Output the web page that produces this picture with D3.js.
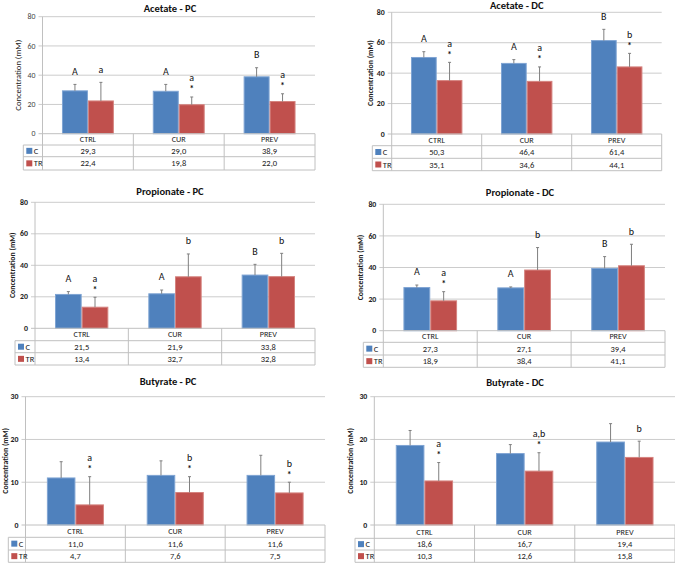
<!DOCTYPE html>
<html>
<head>
<meta charset="utf-8">
<script src="https://cdn.jsdelivr.net/npm/d3@7"></script>
<style>
html,body{margin:0;padding:0;background:#fff;}
svg{display:block;font-family:"Carlito","Liberation Sans",Arial,sans-serif;}
</style>
</head>
<body>
<svg id="chart" width="675" height="564"></svg>
<script>
// ---------------- DATA ----------------
const categories = ["CTRL", "CUR", "PREV"];
const seriesNames = ["C", "TR"];
const panelTitles = ["Acetate - PC", "Acetate - DC", "Propionate - PC", "Propionate - DC", "Butyrate - PC", "Butyrate - DC"];
const yAxisTitle = "Concentration (mM)";
const yMaxes = [80, 80, 80, 80, 30, 30];
const yTickSteps = [20, 20, 20, 20, 10, 10];

const acetatePC_C = [29.3, 29.0, 38.9];
const acetatePC_TR = [22.4, 19.8, 22.0];
const acetatePC_C_sd = [4.4, 4.7, 6.2];
const acetatePC_TR_sd = [12.7, 5.3, 5.3];

const acetateDC_C = [50.3, 46.4, 61.4];
const acetateDC_TR = [35.1, 34.6, 44.1];
const acetateDC_C_sd = [3.8, 2.5, 7.4];
const acetateDC_TR_sd = [12.0, 9.5, 8.9];

const propionatePC_C = [21.5, 21.9, 33.8];
const propionatePC_TR = [13.4, 32.7, 32.8];
const propionatePC_C_sd = [1.8, 2.4, 6.8];
const propionatePC_TR_sd = [6.3, 14.5, 14.8];

const propionateDC_C = [27.3, 27.1, 39.4];
const propionateDC_TR = [18.9, 38.4, 41.1];
const propionateDC_C_sd = [1.6, 0.6, 7.5];
const propionateDC_TR_sd = [5.8, 14.2, 13.6];

const butyratePC_C = [11.0, 11.6, 11.6];
const butyratePC_TR = [4.7, 7.6, 7.5];
const butyratePC_C_sd = [3.8, 3.4, 4.7];
const butyratePC_TR_sd = [6.6, 3.7, 2.5];

const butyrateDC_C = [18.6, 16.7, 19.4];
const butyrateDC_TR = [10.3, 12.6, 15.8];
const butyrateDC_C_sd = [3.5, 2.1, 4.3];
const butyrateDC_TR_sd = [4.3, 4.3, 3.8];

// significance letters (C series, TR series) and asterisks on TR
const lettersC = [["A","A","B"], ["A","A","B"], ["A","A","B"], ["A","A","B"], ["","",""], ["","",""]];
const lettersTR = [["a","a","a"], ["a","a","b"], ["a","b","b"], ["a","b","b"], ["a","b","b"], ["a","a,b","b"]];
const starsTR = [[false,true,true], [true,true,true], [true,false,false], [true,false,false], [true,true,true], [true,true,false]];

const meansC = [acetatePC_C, acetateDC_C, propionatePC_C, propionateDC_C, butyratePC_C, butyrateDC_C];
const meansTR = [acetatePC_TR, acetateDC_TR, propionatePC_TR, propionateDC_TR, butyratePC_TR, butyrateDC_TR];
const sdsC = [acetatePC_C_sd, acetateDC_C_sd, propionatePC_C_sd, propionateDC_C_sd, butyratePC_C_sd, butyrateDC_C_sd];
const sdsTR = [acetatePC_TR_sd, acetateDC_TR_sd, propionatePC_TR_sd, propionateDC_TR_sd, butyratePC_TR_sd, butyrateDC_TR_sd];

// ---------------- LAYOUT / STYLE ----------------
const layout = [
  {axisX:42.5, right:315, yTop:16.7, y0:133.7, rows:[133.7,145,156.7,170], legendLeft:23.3, titleX:170, titleY:8, yLabelX:18, bold:false},
  {axisX:391.7, right:661.7, yTop:12.3, y0:134, rows:[134,145.7,158.3,170.7], legendLeft:372.3, titleX:516.7, titleY:5, yLabelX:370, bold:true},
  {axisX:35, right:315, yTop:202.3, y0:328.3, rows:[328.3,340.7,352.7,365], legendLeft:15, titleX:170, titleY:191, yLabelX:11.7, bold:true},
  {axisX:383.3, right:665, yTop:204.3, y0:330.7, rows:[330.7,342.3,355,367.3], legendLeft:363.3, titleX:520, titleY:192, yLabelX:360, bold:true},
  {axisX:25.5, right:325, yTop:396.7, y0:525, rows:[525,537.3,550,562.3], legendLeft:8.3, titleX:168, titleY:381, yLabelX:5.5, bold:true},
  {axisX:374.3, right:675, yTop:396.7, y0:525, rows:[525,538.3,550,562.3], legendLeft:355, titleX:515, titleY:382, yLabelX:350, bold:true}
];
const colors = {C:"#4F81BD", TR:"#C0504D"};
const strokes = {C:"#7fa4d3", TR:"#d5837f"};
const gridColor = "#cccccc";
const tableColor = "#c0c0c0";
const fmt = v => d3.format(".1f")(v).replace(".", ",");

const svg = d3.select("#chart");

panelTitles.forEach((title, p) => {
  const L = layout[p];
  const g = svg.append("g");
  const x = d3.scaleBand().domain(categories).range([L.axisX, L.right]).padding(0);
  const xs = d3.scaleBand().domain(seriesNames).range([0, x.bandwidth()]).paddingInner(0).paddingOuter(0.75);
  const y = d3.scaleLinear().domain([0, yMaxes[p]]).range([L.y0, L.yTop]);
  const ticks = d3.range(0, yMaxes[p] + 0.001, yTickSteps[p]);

  // gridlines + tick marks
  g.selectAll("line.grid").data(ticks.filter(t => t > 0)).join("line")
    .attr("x1", L.axisX - 4).attr("x2", L.right)
    .attr("y1", d => y(d)).attr("y2", d => y(d))
    .attr("stroke", gridColor).attr("stroke-width", 1);
  g.append("line").attr("x1", L.axisX - 4).attr("x2", L.axisX)
    .attr("y1", y(0)).attr("y2", y(0)).attr("stroke", tableColor);

  // y axis line
  g.append("line").attr("x1", L.axisX).attr("x2", L.axisX)
    .attr("y1", L.yTop).attr("y2", L.rows[3]).attr("stroke", tableColor);

  // y tick labels
  g.selectAll("text.ytick").data(ticks).join("text")
    .attr("x", L.axisX - 7).attr("y", d => y(d) + 2.6)
    .attr("text-anchor", "end")
    .attr("font-size", 7.8)
    .attr("font-weight", L.bold ? "bold" : "normal")
    .attr("fill", L.bold ? "#222" : "#444")
    .text(d => d);

  // y axis title
  g.append("text")
    .attr("transform", `translate(${L.yLabelX + 2.8},${(L.yTop + L.y0) / 2}) rotate(-90)`)
    .attr("text-anchor", "middle")
    .attr("font-size", L.bold ? 7.8 : 8.6)
    .attr("font-weight", L.bold ? "bold" : "normal")
    .attr("fill", "#222")
    .text(yAxisTitle);

  // title
  g.append("text")
    .attr("x", L.titleX).attr("y", L.titleY + 3.7)
    .attr("text-anchor", "middle")
    .attr("font-size", 10.5).attr("font-weight", "bold").attr("fill", "#111")
    .text(title);

  const seriesData = [
    {name:"C", means:meansC[p], sds:sdsC[p], letters:lettersC[p], stars:[false,false,false]},
    {name:"TR", means:meansTR[p], sds:sdsTR[p], letters:lettersTR[p], stars:starsTR[p]}
  ];

  seriesData.forEach(s => {
    const items = categories.map((c, i) => ({c, v:s.means[i], sd:s.sds[i], letter:s.letters[i], star:s.stars[i]}));
    const bx = d => x(d.c) + xs(s.name);
    const cx = d => bx(d) + xs.bandwidth() / 2;
    // bars
    g.selectAll(null).data(items).join("rect")
      .attr("x", d => bx(d) + 0.5).attr("width", xs.bandwidth() - 1)
      .attr("y", d => y(d.v)).attr("height", d => y(0) - y(d.v))
      .attr("fill", colors[s.name]).attr("stroke", strokes[s.name]).attr("stroke-width", 1);
    // error bars (plus direction)
    g.selectAll(null).data(items).join("line")
      .attr("x1", cx).attr("x2", cx)
      .attr("y1", d => y(d.v)).attr("y2", d => y(d.v + d.sd))
      .attr("stroke", "#7f7f7f").attr("stroke-width", 1);
    g.selectAll(null).data(items).join("line")
      .attr("x1", d => cx(d) - 1.5).attr("x2", d => cx(d) + 1.5)
      .attr("y1", d => y(d.v + d.sd)).attr("y2", d => y(d.v + d.sd))
      .attr("stroke", "#7f7f7f").attr("stroke-width", 1);
    // letters (+ asterisk below the letter, one text element)
    const lab = g.selectAll(null).data(items.filter(d => d.letter)).join("text")
      .attr("text-anchor", "middle").attr("fill", "#111")
      .attr("y", d => y(d.v + d.sd) - (d.star ? 19 : 13) + 3.4);
    lab.append("tspan")
      .attr("x", cx)
      .attr("font-size", 10)
      .text(d => d.letter);
    lab.filter(d => d.star).append("tspan")
      .attr("x", cx).attr("dy", 11)
      .attr("font-size", 9).attr("font-weight", "bold")
      .text("*");
  });

  // ---------- data table ----------
  const R = L.rows;
  const t = g.append("g").attr("stroke", tableColor).attr("stroke-width", 1);
  t.append("line").attr("x1", L.axisX).attr("x2", L.right).attr("y1", R[0]).attr("y2", R[0]);
  [1, 2, 3].forEach(k => t.append("line").attr("x1", L.legendLeft).attr("x2", L.right).attr("y1", R[k]).attr("y2", R[k]));
  t.append("line").attr("x1", L.legendLeft).attr("x2", L.legendLeft).attr("y1", R[1]).attr("y2", R[3]);
  categories.forEach(c => {
    t.append("line").attr("x1", x(c) + x.bandwidth()).attr("x2", x(c) + x.bandwidth()).attr("y1", R[0]).attr("y2", R[3]);
  });

  // category names
  g.selectAll(null).data(categories).join("text")
    .attr("x", c => x(c) + x.bandwidth() / 2).attr("y", (R[0] + R[1]) / 2 + 2.9)
    .attr("text-anchor", "middle").attr("font-size", 8.2).attr("fill", "#222")
    .text(c => c);

  // legend + values
  seriesData.forEach((s, k) => {
    const cy = (R[k + 1] + R[k + 2]) / 2;
    g.append("rect").attr("x", L.legendLeft + 3).attr("y", cy - 3).attr("width", 6).attr("height", 6)
      .attr("fill", colors[s.name]);
    g.append("text").attr("x", L.legendLeft + 10.5).attr("y", cy + 3)
      .attr("font-size", 8.5).attr("fill", "#222").text(s.name);
    g.selectAll(null).data(categories).join("text")
      .attr("x", c => x(c) + x.bandwidth() / 2).attr("y", cy + 3)
      .attr("text-anchor", "middle").attr("font-size", 8.5).attr("fill", "#222")
      .text((c, i) => fmt(s.means[i]));
  });
});
</script>
</body>
</html>
